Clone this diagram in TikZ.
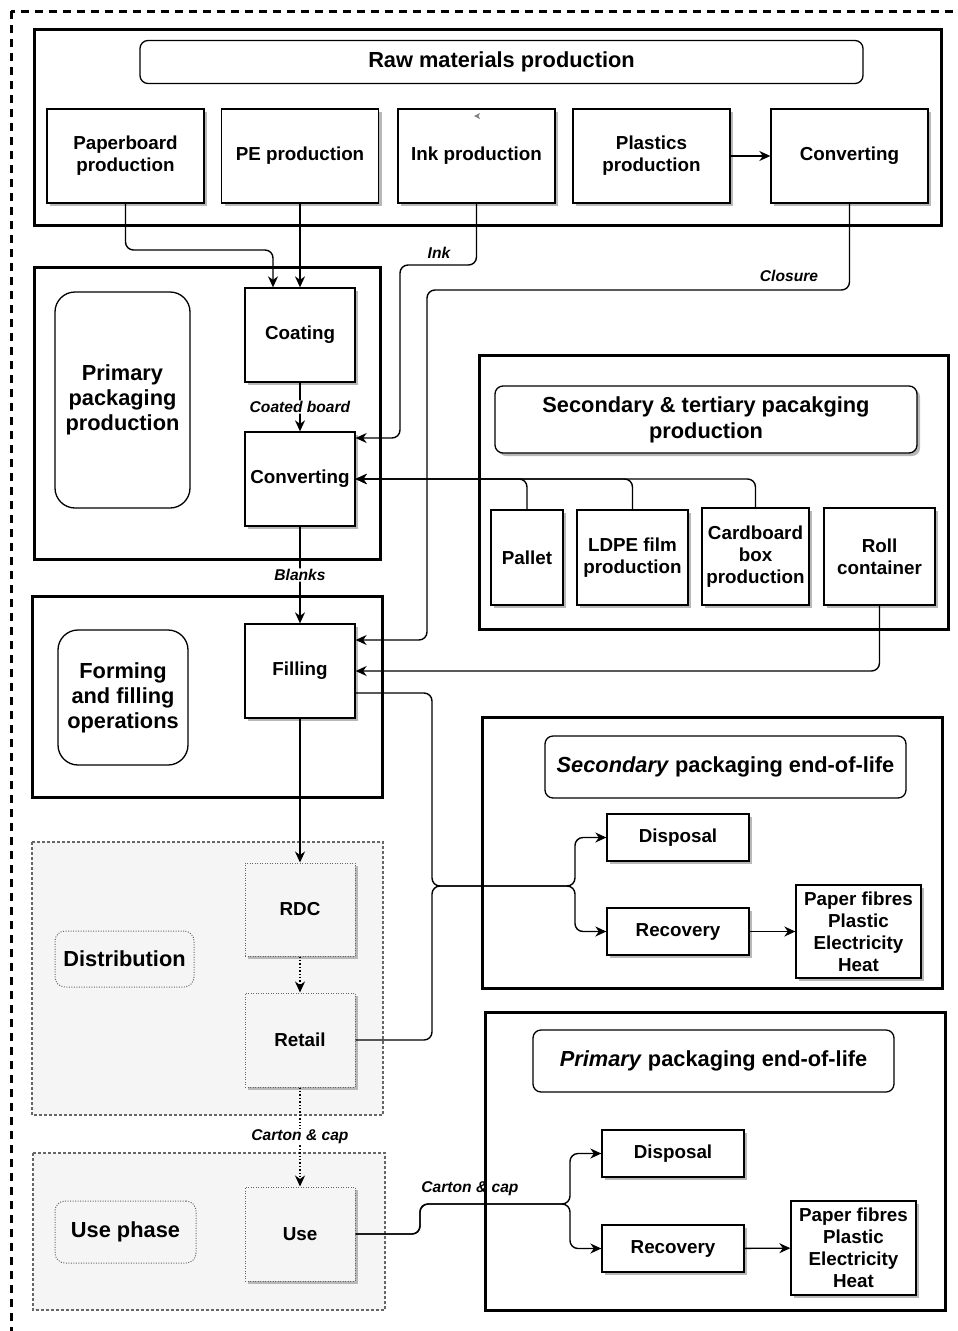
\documentclass[tikz,border=0pt]{standalone}
\usepackage{fontspec}
\setmainfont{Liberation Sans}
\usetikzlibrary{arrows.meta,shadows}

\definecolor{groupgray}{HTML}{F5F5F5}
\definecolor{dotgray}{HTML}{666666}

\begin{document}
\begin{tikzpicture}[x=1pt, y=-1pt,
    frame/.style={draw, line width=3pt},
    stage/.style={draw, line width=1.3pt, fill=white, align=center, inner sep=0pt,
        font=\fontsize{18.8}{22}\selectfont\bfseries,
        drop shadow={shadow xshift=3pt, shadow yshift=-3pt, fill=black!28, opacity=1}},
    heading/.style={draw, line width=1.3pt, fill=white, rounded corners=8pt, align=center,
        inner sep=0pt, font=\fontsize{21.8}{26}\selectfont\bfseries},
    sidelabel/.style={heading, rounded corners=20pt, font=\fontsize{21.8}{25}\selectfont\bfseries},
    group/.style={draw=dotgray, fill=groupgray, line width=2.6pt, dash pattern=on 2.6pt off 2.4pt},
    dotstage/.style={stage, draw=dotgray, fill=groupgray, line width=1pt, dash pattern=on 1pt off 1.5pt},
    dotlabel/.style={sidelabel, draw=dotgray, fill=groupgray, rounded corners=10pt,
        line width=1pt, dash pattern=on 1pt off 1.5pt},
    flow/.style={line width=1.4pt, rounded corners=8pt, -{Stealth[length=11pt, width=10pt, inset=3.5pt]}},
    lbl/.style={font=\fontsize{15.6}{18}\selectfont\bfseries\itshape, inner sep=1pt}]

    % Page
    \fill[white] (0,0) rectangle (958,1331);
    \useasboundingbox (0,0) rectangle (958,1331);

    % System boundary
    \draw[line width=3pt, dash pattern=on 8pt off 6pt] (11,11) rectangle (975,1345);

    % Stage frames
    \draw[frame] (34,29) rectangle (941,225);
    \draw[frame] (34,267) rectangle (380,559);
    \draw[frame] (32,596) rectangle (382,797);
    \draw[frame] (479,355) rectangle (948,629);
    \draw[frame] (482,717) rectangle (942,988);
    \draw[frame] (485,1012) rectangle (945,1310);
    \draw[group] (32,842) rectangle (383,1115);
    \draw[group] (33,1153) rectangle (385,1310);

    % Raw materials production
    \node[heading, minimum width=723, minimum height=43] (rawtitle) at (501.5,62) {Raw materials production};
    \node[stage, minimum width=157, minimum height=94] (pb) at (125.5,156) {Paperboard\\production};
    \node[stage, minimum width=157, minimum height=94] (pe) at (300,156) {PE production};
    \node[stage, minimum width=157, minimum height=94] (ink) at (476.5,156) {Ink production};
    \node[stage, minimum width=157, minimum height=94] (plast) at (651.5,156) {Plastics\\production};
    \node[stage, minimum width=157, minimum height=94] (conv2) at (849.5,156) {Converting};
    \fill[gray] (474,116) -- (480,113) -- (478.5,116) -- (480,119) -- cycle;

    % Primary packaging production
    \node[sidelabel, minimum width=135, minimum height=216] (ppp) at (122.5,400) {Primary\\packaging\\production};
    \node[stage, minimum width=110, minimum height=94] (coat) at (300,335) {Coating};
    \node[stage, minimum width=110, minimum height=94] (conv) at (300,479) {Converting};

    % Forming and filling
    \node[sidelabel, minimum width=130, minimum height=135] (ffo) at (123,697.5) {Forming\\and filling\\operations};
    \node[stage, minimum width=110, minimum height=94] (fill) at (300,671) {Filling};

    % Secondary & tertiary packaging
    \node[heading, minimum width=422, minimum height=67,
        drop shadow={shadow xshift=3pt, shadow yshift=-3pt, fill=black!28, opacity=1}] (sttitle) at (706,419.5)
        {Secondary \& tertiary pacakging\\production};
    \node[stage, minimum width=72, minimum height=95] (pallet) at (527,557.5) {Pallet};
    \node[stage, minimum width=111, minimum height=95] (ldpe) at (632.5,557.5) {LDPE film\\production};
    \node[stage, minimum width=107, minimum height=97] (cbox) at (755.5,556.5) {Cardboard\\box\\production};
    \node[stage, minimum width=111, minimum height=97] (roll) at (879.5,556.5) {Roll\\container};

    % Distribution and use
    \node[dotlabel, minimum width=139, minimum height=56] (dist) at (124.5,959) {Distribution};
    \node[dotstage, minimum width=110, minimum height=93] (rdc) at (300,909.5) {RDC};
    \node[dotstage, minimum width=110, minimum height=94] (retail) at (300,1040) {Retail};
    \node[dotlabel, minimum width=141, minimum height=62] (usep) at (125.5,1232) {Use phase};
    \node[dotstage, minimum width=110, minimum height=94] (use) at (300,1234) {Use};

    % Secondary packaging end-of-life
    \node[heading, minimum width=361, minimum height=62] (seoltitle) at (725.5,767)
        {\textit{Secondary} packaging end-of-life};
    \node[stage, minimum width=142, minimum height=47] (disp1) at (678,837.5) {Disposal};
    \node[stage, minimum width=142, minimum height=47] (rec1) at (678,931.5) {Recovery};
    \node[stage, minimum width=125, minimum height=93] (out1) at (858.5,931.5)
        {Paper fibres\\Plastic\\Electricity\\Heat};

    % Primary packaging end-of-life
    \node[heading, minimum width=361, minimum height=62] (peoltitle) at (713.5,1061)
        {\textit{Primary} packaging end-of-life};
    \node[stage, minimum width=142, minimum height=47] (disp2) at (673,1153.5) {Disposal};
    \node[stage, minimum width=142, minimum height=47] (rec2) at (673,1248.5) {Recovery};
    \node[stage, minimum width=125, minimum height=94] (out2) at (853.5,1248)
        {Paper fibres\\Plastic\\Electricity\\Heat};

    % Flows into coating and converting
    \draw[flow] (pb.south) |- (273,250) -- ([xshift=-27pt]coat.north);
    \draw[flow] (pe.south) -- (coat.north);
    \draw[flow] (plast) -- (conv2);
    \draw[flow] (ink.south) |- (400,265) |- ([yshift=41pt]conv.east);
    \node[lbl] (inklbl) at (439,253) {Ink};
    \draw[flow] (conv2.south) |- (427,290) |- ([yshift=31pt]fill.east);
    \node[lbl] (closlbl) at (789,276) {Closure};
    \foreach \s in {pallet, ldpe, cbox}
        \draw[flow] (\s.north) |- (conv.east);
    \draw[flow] (roll.south) |- (fill.east);

    % Main chain
    \draw[flow] (coat.south) -- (conv.north) node[midway, lbl, fill=white] (cblbl) {Coated board};
    \draw[flow] (conv.south) -- (fill.north) node[midway, lbl, fill=white] (blklbl) {Blanks};
    \draw[flow] (fill.south) -- (rdc.north);
    \draw[flow, dotted] (rdc.south) -- (retail.north);
    \draw[flow, dotted] (retail.south) -- (use.north) node[midway, lbl, fill=white] (cclbl) {Carton \& cap};

    % Secondary packaging to end-of-life
    \coordinate (sj) at (432,886);
    \coordinate (sk) at (575,886);
    \draw[flow] ([yshift=-22pt]fill.east) -| (sj) -- (sk) |- (disp1.west);
    \draw[flow] (retail.east) -| (sj) -- (sk) |- (rec1.west);
    \draw[flow] (rec1) -- (out1);

    % Primary packaging to end-of-life
    \coordinate (pj) at (420,1204);
    \coordinate (pk) at (570,1204);
    \draw[flow] (use.east) -| (pj) -- (pk) |- (disp2.west);
    \draw[flow] (use.east) -| (pj) -- (pk) |- (rec2.west);
    \node[lbl] (cc2lbl) at (470,1189) {Carton \& cap};
    \draw[flow] (rec2) -- (out2);

\end{tikzpicture}
\end{document}
